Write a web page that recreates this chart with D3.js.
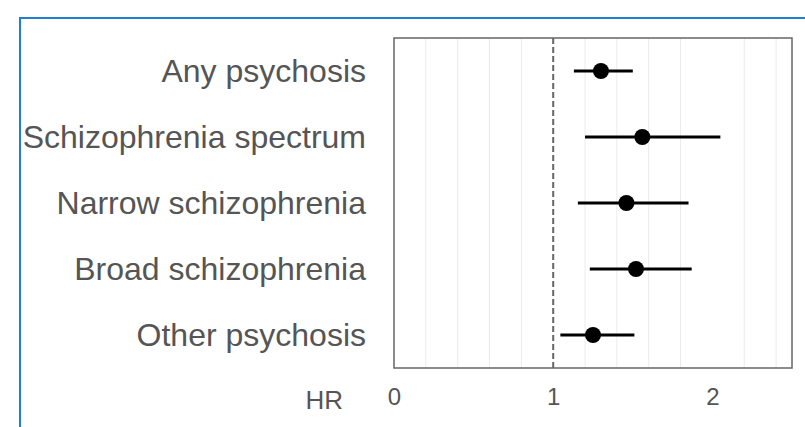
<!DOCTYPE html>
<html>
<head>
<meta charset="utf-8">
<script src="https://cdn.jsdelivr.net/npm/d3@7"></script>
<style>
  body { margin: 0; background: #fff; }
  svg { display: block; }
  svg text { font-family: "Liberation Sans", Arial, sans-serif; }
</style>
</head>
<body>
<svg id="chart" width="805" height="427"></svg>
<script>
// outcomes, top to bottom
const outcomes = ['Any psychosis', 'Schizophrenia spectrum', 'Narrow schizophrenia', 'Broad schizophrenia', 'Other psychosis'];
const hr = [1.30, 1.56, 1.46, 1.52, 1.25];
const lower = [1.13, 1.20, 1.155, 1.23, 1.045];
const upper = [1.50, 2.05, 1.85, 1.87, 1.51];
const xTicks = [0, 1, 2];
const gridTicks = [0.2, 0.4, 0.6, 0.8, 1.2, 1.4, 1.6, 1.8, 2.2, 2.4];

const svg = d3.select('#chart');
const panel = {left: 394, top: 38, right: 792, bottom: 368};
const textColor = '#555';

// outer blue frame
svg.append('rect')
    .attr('x', 20).attr('y', 18)
    .attr('width', 820).attr('height', 440)
    .attr('fill', 'none')
    .attr('stroke', '#1f7fd2')
    .attr('stroke-width', 2);

const x = d3.scaleLinear().domain([0, 2.5]).range([panel.left, panel.right]);
const y = d3.scaleBand().domain(outcomes).range([panel.top, panel.bottom]);

// minor vertical grid
svg.append('g')
    .selectAll('line')
    .data(gridTicks)
    .join('line')
    .attr('x1', d => x(d)).attr('x2', d => x(d))
    .attr('y1', panel.top).attr('y2', panel.bottom)
    .attr('stroke', '#ebebeb')
    .attr('stroke-width', 1);

// reference line at HR = 1
svg.append('line')
    .attr('x1', x(1)).attr('x2', x(1))
    .attr('y1', panel.top).attr('y2', panel.bottom)
    .attr('stroke', '#666')
    .attr('stroke-width', 2)
    .attr('stroke-dasharray', '6,3');

let rows = outcomes.map((o, i) => ({name: o, hr: hr[i], lo: lower[i], hi: upper[i]}));
let cy = d => y(d.name) + y.bandwidth() / 2;

// confidence intervals
svg.append('g')
    .selectAll('line')
    .data(rows)
    .join('line')
    .attr('x1', d => x(d.lo)).attr('x2', d => x(d.hi))
    .attr('y1', cy).attr('y2', cy)
    .attr('stroke', '#000')
    .attr('stroke-width', 3);

svg.append('g')
    .selectAll('circle')
    .data(rows)
    .join('circle')
    .attr('cx', d => x(d.hr))
    .attr('cy', cy)
    .attr('r', 8)
    .attr('fill', '#000');

// panel border
svg.append('rect')
    .attr('x', panel.left).attr('y', panel.top)
    .attr('width', panel.right - panel.left)
    .attr('height', panel.bottom - panel.top)
    .attr('fill', 'none')
    .attr('stroke', '#666')
    .attr('stroke-width', 1.5);

// category labels
const yAxis = svg.append('g')
    .attr('transform', `translate(${panel.left},0)`)
    .call(d3.axisLeft(y).tickSize(0).tickPadding(28));
yAxis.attr('font-family', null).attr('font-size', null);
yAxis.select('.domain').remove();
yAxis.selectAll('text')
    .attr('fill', textColor)
    .style('font-size', '32px')
    .attr('dy', '0.33em');

// x tick labels
const xAxis = svg.append('g')
    .attr('transform', `translate(0,${panel.bottom})`)
    .call(d3.axisBottom(x).tickValues(xTicks).tickFormat(d3.format('d')).tickSize(0).tickPadding(20));
xAxis.attr('font-family', null).attr('font-size', null);
xAxis.select('.domain').remove();
xAxis.selectAll('text')
    .attr('fill', textColor)
    .style('font-size', '24px');

svg.append('text')
    .attr('x', 343)
    .attr('y', 409)
    .attr('text-anchor', 'end')
    .attr('fill', textColor)
    .style('font-size', '26px')
    .text('HR');
</script>
</body>
</html>
